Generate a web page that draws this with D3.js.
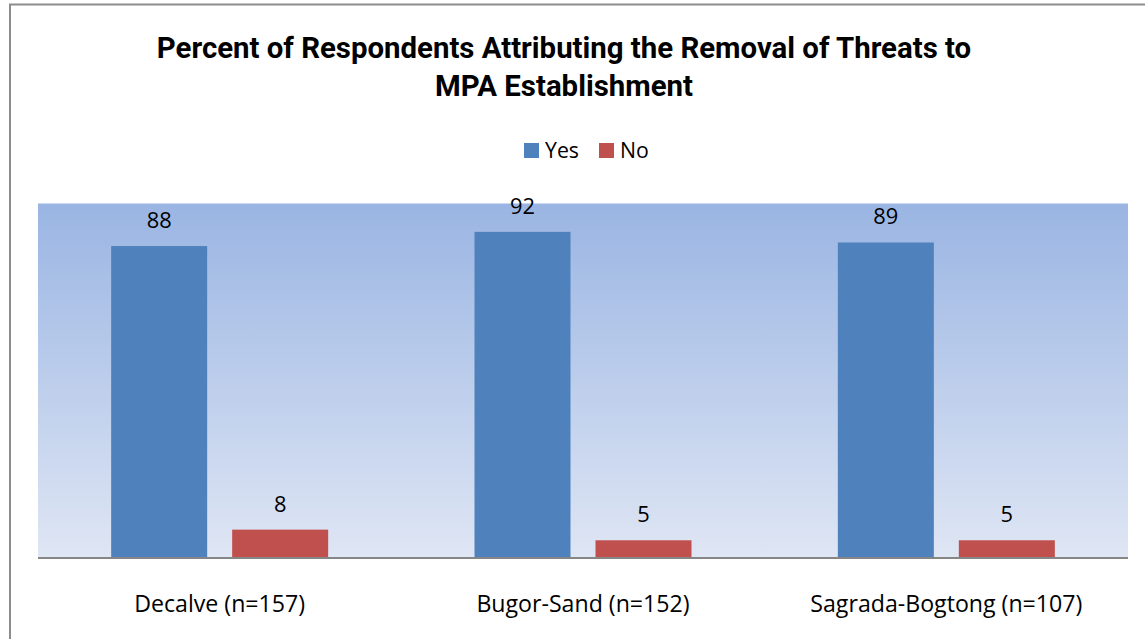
<!DOCTYPE html>
<html><head><meta charset="utf-8">
<script src="https://cdn.jsdelivr.net/npm/d3@7"></script>
<style>html,body{margin:0;padding:0;background:#fff;}svg{display:block;}</style>
</head><body>
<script>
const categories = ["Decalve (n=157)", "Bugor-Sand (n=152)", "Sagrada-Bogtong (n=107)"];
const seriesNames = ["Yes", "No"];
const yesValues = [88, 92, 89];
const noValues = [8, 5, 5];
const titleLines = ["Percent of Respondents Attributing the Removal of Threats to", "MPA Establishment"];

const W = 1145, H = 639;
const colors = {Yes: "#4F81BD", No: "#C0504D"};
const font = "'Open Sans', Lato, sans-serif";
const titleFont = "Roboto, 'Open Sans', sans-serif";
const svg = d3.select("body").append("svg").attr("width", W).attr("height", H);

// helper: font size that gives a text a target width
function fitSize(txt, family, weight, target) {
  const t = svg.append("text").attr("font-family", family).attr("font-weight", weight).attr("font-size", 100).text(txt);
  const w = t.node().getComputedTextLength();
  t.remove();
  return 100 * target / w;
}
const titleSize = fitSize(titleLines[0], titleFont, "bold", 815);
const labelSize = fitSize(categories[0], font, "normal", 171);
const valueSize = fitSize("88", font, "normal", 25);
const legendSize = fitSize("Yes", font, "normal", 34);

// outer chart border
svg.append("path").attr("d", `M10,${H+5} L10,4.5 L${W+5},4.5`).attr("fill","none").attr("stroke","#8c8c8c").attr("stroke-width",2);

const plot = {left: 38, right: 1128, top: 203.5, bottom: 558};
const defs = svg.append("defs");
const grad = defs.append("linearGradient").attr("id","bg").attr("x1",0).attr("y1",0).attr("x2",0).attr("y2",1);
grad.append("stop").attr("offset","0%").attr("stop-color","#9AB5E3");
grad.append("stop").attr("offset","100%").attr("stop-color","#DFE6F4");
svg.append("rect").attr("x",plot.left).attr("y",plot.top).attr("width",plot.right-plot.left).attr("height",plot.bottom-plot.top).attr("fill","url(#bg)");

const x0 = d3.scaleBand().domain(categories).range([plot.left, plot.right]).paddingInner(0).paddingOuter(0);
const groupW = 217;
const x1 = d3.scaleBand().domain(seriesNames).range([0, groupW]).paddingInner(25/121).paddingOuter(0);
const y = d3.scaleLinear().domain([0,100]).range([plot.bottom, plot.top]);

const data = categories.map((c,i)=>({cat:c, vals:[{s:"Yes", v:yesValues[i]},{s:"No", v:noValues[i]}]}));
const g = svg.append("g");
const grp = g.selectAll("g.cat").data(data).join("g")
  .attr("transform", d => `translate(${x0(d.cat) + x0.bandwidth()/2 - groupW/2},0)`);
grp.selectAll("rect").data(d=>d.vals).join("rect")
  .attr("x", d=>x1(d.s)).attr("width", x1.bandwidth())
  .attr("y", d=>y(d.v)).attr("height", d=>y(0)-y(d.v))
  .attr("fill", d=>colors[d.s]);
grp.selectAll("text").data(d=>d.vals).join("text")
  .attr("x", d=>x1(d.s)+x1.bandwidth()/2).attr("y", d=>y(d.v)-18)
  .attr("text-anchor","middle").attr("font-family",font).attr("font-size",valueSize).attr("fill","#000")
  .text(d=>d.v);

// x axis
const xAxis = d3.axisBottom(x0).tickSize(0).tickPadding(0);
const ax = svg.append("g").attr("transform",`translate(0,${plot.bottom})`).call(xAxis);
ax.select(".domain").attr("stroke","#868686").attr("stroke-width",2).attr("d",`M${plot.left},0H${plot.right}`);
ax.selectAll(".tick text").attr("font-family",font).attr("font-size",labelSize).attr("fill","#000").attr("dy",0).attr("y",54);

// title
svg.append("text").attr("x",564).attr("text-anchor","middle").attr("font-family",titleFont).attr("font-weight","bold").attr("font-size",titleSize).attr("fill","#000")
  .selectAll("tspan").data(titleLines).join("tspan").attr("x",564).attr("y",(d,i)=>58+i*38).text(d=>d);

// legend
const leg = svg.append("g");
const legX = [524, 599];
seriesNames.forEach((s,i)=>{
  leg.append("rect").attr("x",legX[i]).attr("y",143).attr("width",15).attr("height",15).attr("fill",colors[s]);
  leg.append("text").attr("x",legX[i]+21).attr("y",158).attr("font-family",font).attr("font-size",legendSize).attr("fill","#000").text(s);
});
</script>
</body></html>
